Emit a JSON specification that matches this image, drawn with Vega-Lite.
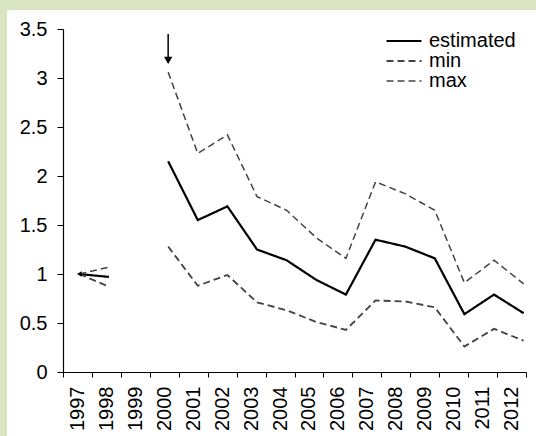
{
  "$schema": "https://vega.github.io/schema/vega-lite/v6.json",
  "autosize": {"type": "none"},
  "width": 463,
  "height": 343,
  "padding": {"left": 63, "top": 29, "right": 10, "bottom": 64},
  "background": "white",
  "config": {
    "view": {"stroke": null},
    "font": "Liberation Sans",
    "axis": {"domainColor": "black", "tickColor": "black", "labelColor": "black", "grid": false, "title": null}
  },
  "datasets": {
    "series": [
      {"year": 1997, "value": 1.0, "series": "estimated", "seg": "a"},
      {"year": 1998, "value": 0.97, "series": "estimated", "seg": "a"},
      {"year": 2000, "value": 2.15, "series": "estimated", "seg": "b"},
      {"year": 2001, "value": 1.55, "series": "estimated", "seg": "b"},
      {"year": 2002, "value": 1.69, "series": "estimated", "seg": "b"},
      {"year": 2003, "value": 1.25, "series": "estimated", "seg": "b"},
      {"year": 2004, "value": 1.14, "series": "estimated", "seg": "b"},
      {"year": 2005, "value": 0.94, "series": "estimated", "seg": "b"},
      {"year": 2006, "value": 0.79, "series": "estimated", "seg": "b"},
      {"year": 2007, "value": 1.35, "series": "estimated", "seg": "b"},
      {"year": 2008, "value": 1.28, "series": "estimated", "seg": "b"},
      {"year": 2009, "value": 1.16, "series": "estimated", "seg": "b"},
      {"year": 2010, "value": 0.59, "series": "estimated", "seg": "b"},
      {"year": 2011, "value": 0.79, "series": "estimated", "seg": "b"},
      {"year": 2012, "value": 0.60, "series": "estimated", "seg": "b"},
      {"year": 1997, "value": 1.0, "series": "min", "seg": "a"},
      {"year": 1998, "value": 0.87, "series": "min", "seg": "a"},
      {"year": 2000, "value": 1.28, "series": "min", "seg": "b"},
      {"year": 2001, "value": 0.88, "series": "min", "seg": "b"},
      {"year": 2002, "value": 0.99, "series": "min", "seg": "b"},
      {"year": 2003, "value": 0.71, "series": "min", "seg": "b"},
      {"year": 2004, "value": 0.63, "series": "min", "seg": "b"},
      {"year": 2005, "value": 0.51, "series": "min", "seg": "b"},
      {"year": 2006, "value": 0.43, "series": "min", "seg": "b"},
      {"year": 2007, "value": 0.73, "series": "min", "seg": "b"},
      {"year": 2008, "value": 0.72, "series": "min", "seg": "b"},
      {"year": 2009, "value": 0.66, "series": "min", "seg": "b"},
      {"year": 2010, "value": 0.26, "series": "min", "seg": "b"},
      {"year": 2011, "value": 0.44, "series": "min", "seg": "b"},
      {"year": 2012, "value": 0.32, "series": "min", "seg": "b"},
      {"year": 1997, "value": 1.0, "series": "max", "seg": "a"},
      {"year": 1998, "value": 1.07, "series": "max", "seg": "a"},
      {"year": 2000, "value": 3.06, "series": "max", "seg": "b"},
      {"year": 2001, "value": 2.23, "series": "max", "seg": "b"},
      {"year": 2002, "value": 2.42, "series": "max", "seg": "b"},
      {"year": 2003, "value": 1.79, "series": "max", "seg": "b"},
      {"year": 2004, "value": 1.65, "series": "max", "seg": "b"},
      {"year": 2005, "value": 1.37, "series": "max", "seg": "b"},
      {"year": 2006, "value": 1.16, "series": "max", "seg": "b"},
      {"year": 2007, "value": 1.94, "series": "max", "seg": "b"},
      {"year": 2008, "value": 1.82, "series": "max", "seg": "b"},
      {"year": 2009, "value": 1.65, "series": "max", "seg": "b"},
      {"year": 2010, "value": 0.91, "series": "max", "seg": "b"},
      {"year": 2011, "value": 1.14, "series": "max", "seg": "b"},
      {"year": 2012, "value": 0.90, "series": "max", "seg": "b"}
    ],
    "years": [
      {"label": "1997"}, {"label": "1998"}, {"label": "1999"}, {"label": "2000"},
      {"label": "2001"}, {"label": "2002"}, {"label": "2003"}, {"label": "2004"},
      {"label": "2005"}, {"label": "2006"}, {"label": "2007"}, {"label": "2008"},
      {"label": "2009"}, {"label": "2010"}, {"label": "2011"}, {"label": "2012"}
    ],
    "arrow": [{"year": 2000, "from": 3.45, "to": 3.18}],
    "frame": [
      {"x1": 1993.5, "x2": 1994.56, "y1": 3.9, "y2": -1},
      {"x1": 1993.5, "x2": 2015, "y1": 3.9, "y2": 3.694}
    ]
  },
  "layer": [
    {
      "layer": [
        {
          "data": {"name": "frame"},
          "mark": {"type": "rect", "fill": "#d9e5c1"},
          "encoding": {
            "x": {"field": "x1", "type": "quantitative", "scale": {"domain": [1996.45, 2012.08], "nice": false, "zero": false}, "axis": null},
            "x2": {"field": "x2"},
            "y": {"field": "y1", "type": "quantitative", "scale": {"domain": [0, 3.5], "nice": false}, "axis": {"values": [0, 0.5, 1, 1.5, 2, 2.5, 3, 3.5], "format": "~g", "labelFontSize": 20, "tickSize": 6, "labelPadding": 10, "domainWidth": 1.2}},
            "y2": {"field": "y2"}
          }
        },
        {
          "data": {"name": "series"},
          "mark": {"type": "line", "strokeCap": "butt", "strokeJoin": "miter"},
          "encoding": {
            "x": {"field": "year", "type": "quantitative", "scale": {"domain": [1996.45, 2012.08], "nice": false, "zero": false}, "axis": null},
            "y": {
              "field": "value", "type": "quantitative",
              "scale": {"domain": [0, 3.5], "nice": false},
              "axis": {"values": [0, 0.5, 1, 1.5, 2, 2.5, 3, 3.5], "format": "~g", "labelFontSize": 20, "tickSize": 6, "labelPadding": 10, "domainWidth": 1.2}
            },
            "detail": {"field": "seg"},
            "color": {
              "field": "series", "type": "nominal",
              "scale": {"domain": ["estimated", "min", "max"], "range": ["#000000", "#444444", "#444444"]},
              "legend": {"title": null, "orient": "none", "legendX": 322, "legendY": 2, "labelFontSize": 20, "labelColor": "black", "symbolType": "stroke", "symbolSize": 1225, "symbolStrokeWidth": 1.5, "clipHeight": 20, "rowPadding": 0, "labelOffset": 6, "padding": 0}
            },
            "strokeDash": {
              "field": "series", "type": "nominal",
              "scale": {"domain": ["estimated", "min", "max"], "range": [[1, 0], [7, 4], [7, 4]]},
              "legend": {"title": null, "orient": "none", "legendX": 322, "legendY": 2, "labelFontSize": 20, "labelColor": "black", "symbolType": "stroke", "symbolSize": 1225, "symbolStrokeWidth": 1.5, "clipHeight": 20, "rowPadding": 0, "labelOffset": 6, "padding": 0}
            },
            "strokeWidth": {
              "field": "series", "type": "nominal",
              "scale": {"domain": ["estimated", "min", "max"], "range": [2.2, 1.5, 1.5]},
              "legend": null
            }
          }
        },
        {
          "data": {"name": "series"},
          "transform": [{"filter": "datum.year == 1997 && datum.series == 'estimated'"}],
          "mark": {"type": "point", "shape": "triangle-left", "filled": true, "color": "black", "size": 30, "opacity": 1},
          "encoding": {
            "x": {"field": "year", "type": "quantitative"},
            "y": {"field": "value", "type": "quantitative"}
          }
        },
        {
          "data": {"name": "arrow"},
          "mark": {"type": "rule", "color": "black", "strokeWidth": 1.5},
          "encoding": {
            "x": {"field": "year", "type": "quantitative"},
            "y": {"field": "from", "type": "quantitative"},
            "y2": {"field": "to"}
          }
        },
        {
          "data": {"name": "arrow"},
          "mark": {"type": "point", "shape": "triangle-down", "filled": true, "color": "black", "size": 70, "opacity": 1},
          "encoding": {
            "x": {"field": "year", "type": "quantitative"},
            "y": {"field": "to", "type": "quantitative"}
          }
        }
      ]
    },
    {
      "data": {"name": "years"},
      "mark": {"type": "point", "opacity": 0},
      "encoding": {
        "x": {
          "field": "label", "type": "ordinal",
          "scale": {"type": "band", "paddingInner": 0, "paddingOuter": 0},
          "axis": {"orient": "bottom", "tickBand": "extent", "labelAngle": 270, "labelFontSize": 20, "tickSize": 5, "labelPadding": 9, "domainWidth": 1.2}
        }
      }
    }
  ],
  "resolve": {"scale": {"x": "independent"}, "axis": {"x": "independent"}}
}
